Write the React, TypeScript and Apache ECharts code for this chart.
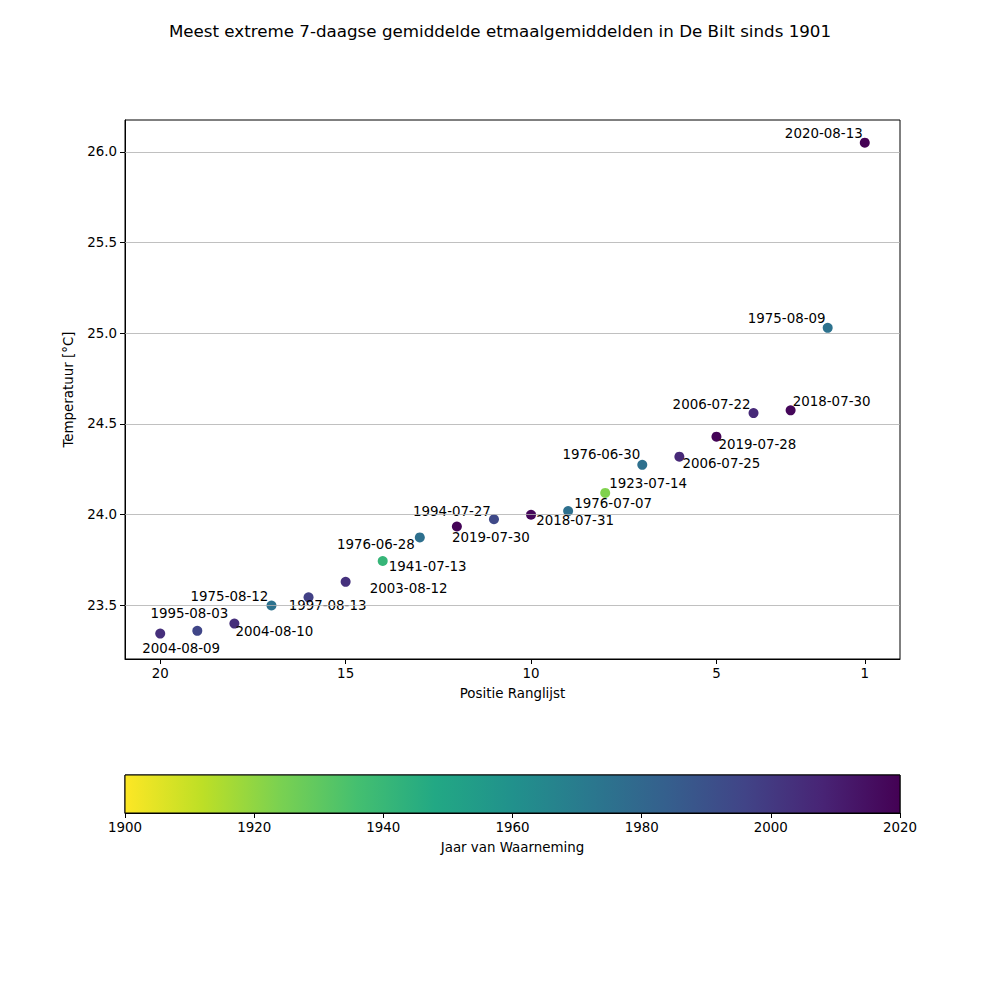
import React, { useEffect, useRef } from 'react'
import * as echarts from 'echarts'

// ranglijst: positie, temperatuur en datum
const ranks = [1, 2, 3, 4, 5, 6, 7, 8, 9, 10, 11, 12, 13, 14, 15, 16, 17, 18, 19, 20]
const temps = [
  26.05, 25.03, 24.575, 24.56, 24.43, 24.32, 24.275, 24.12, 24.02, 24.0,
  23.975, 23.935, 23.875, 23.745, 23.63, 23.545, 23.5, 23.4, 23.36, 23.345
]
const dates = [
  '2020-08-13', '1975-08-09', '2018-07-30', '2006-07-22', '2019-07-28',
  '2006-07-25', '1976-06-30', '1923-07-14', '1976-07-07', '2018-07-31',
  '1994-07-27', '2019-07-30', '1976-06-28', '1941-07-13', '2003-08-12',
  '1997-08-13', '1975-08-12', '2004-08-10', '1995-08-03', '2004-08-09'
]
const years = dates.map((d) => parseInt(d.slice(0, 4), 10))

const xTicks = [1, 5, 10, 15, 20]
const yTicks = [23.5, 24.0, 24.5, 25.0, 25.5, 26.0]

// label offsets (px) relative to each point
const labelOffsets: [number, number][] = [
  [-41, -9], [-41, -9], [41, -9], [-42, -9], [41, 8],
  [42, 7], [-41, -10], [43, -9], [45, -8], [44, 6],
  [-42, -8], [34, 11], [-44, 7], [45, 5], [63, 7],
  [19, 8], [-42, -9], [40, 8], [-8, -17], [21, 15]
]

const viridis = [
  '#440154', '#482475', '#414487', '#355f8d', '#2a788e', '#21918c',
  '#22a884', '#44bf70', '#7ad151', '#bddf26', '#fde725'
]
const viridisR = [...viridis].reverse()

const FONT = 'DejaVu Sans'

const App: React.FC = () => {
  const chartRef = useRef<HTMLDivElement>(null)

  useEffect(() => {
    if (!chartRef.current) return
    const chart = echarts.init(chartRef.current, undefined, { renderer: 'svg' })

    const gradient = new echarts.graphic.LinearGradient(
      0, 0, 1, 0,
      viridisR.map((c, i) => ({ offset: i / (viridisR.length - 1), color: c }))
    )

    const axisLabel = { color: '#000', fontSize: 13.4, fontFamily: FONT, margin: 8 }
    const axisTick = { show: true, inside: false, length: 5, lineStyle: { color: '#000' } }

    const option: any = {
      animation: false,
      backgroundColor: '#fff',
      textStyle: { fontFamily: FONT },
      title: {
        text: 'Meest extreme 7-daagse gemiddelde etmaalgemiddelden in De Bilt sinds 1901',
        left: 'center',
        top: 17,
        textStyle: { color: '#000', fontSize: 16.7, fontWeight: 'normal', fontFamily: FONT }
      },
      grid: [
        { left: 125, right: 100, top: 120, height: 539, show: true, borderColor: '#000', borderWidth: 1, backgroundColor: 'transparent' },
        { left: 125, right: 100, top: 775, height: 38, show: true, borderColor: '#000', borderWidth: 1, backgroundColor: 'transparent' }
      ],
      xAxis: [
        {
          gridIndex: 0,
          type: 'value',
          inverse: true,
          min: 0.05,
          max: 20.95,
          name: 'Positie Ranglijst',
          nameLocation: 'middle',
          nameGap: 28,
          nameTextStyle: { color: '#000', fontSize: 13.4, fontFamily: FONT },
          axisLine: { show: true, lineStyle: { color: '#000' } },
          axisTick: { ...axisTick, customValues: xTicks },
          axisLabel: { ...axisLabel, customValues: xTicks },
          splitLine: { show: false }
        },
        {
          gridIndex: 1,
          type: 'value',
          min: 1900,
          max: 2020,
          interval: 20,
          name: 'Jaar van Waarneming',
          nameLocation: 'middle',
          nameGap: 28,
          nameTextStyle: { color: '#000', fontSize: 13.4, fontFamily: FONT },
          axisLine: { show: true, lineStyle: { color: '#000' } },
          axisTick,
          axisLabel: { ...axisLabel, formatter: (v: number) => String(v) },
          splitLine: { show: false }
        }
      ],
      yAxis: [
        {
          gridIndex: 0,
          type: 'value',
          min: 23.205,
          max: 26.175,
          name: 'Temperatuur [°C]',
          nameLocation: 'middle',
          nameGap: 50,
          nameRotate: 90,
          nameTextStyle: { color: '#000', fontSize: 13.4, fontFamily: FONT },
          axisLine: { show: true, lineStyle: { color: '#000' } },
          axisTick: { ...axisTick, customValues: yTicks },
          axisLabel: { ...axisLabel, customValues: yTicks, formatter: (v: number) => v.toFixed(1) },
          splitLine: { show: false }
        },
        {
          gridIndex: 1,
          type: 'value',
          min: 0,
          max: 1,
          show: false
        }
      ],
      visualMap: {
        show: false,
        type: 'continuous',
        seriesIndex: 0,
        dimension: 2,
        min: 1900,
        max: 2020,
        inRange: { color: viridisR, opacity: 1 }
      },
      series: [
        {
          type: 'scatter',
          xAxisIndex: 0,
          yAxisIndex: 0,
          symbolSize: 10,
          z: 3,
          itemStyle: { opacity: 1 },
          data: ranks.map((r, i) => ({
            value: [r, temps[i], years[i], dates[i]],
            label: {
              show: true,
              position: 'inside',
              offset: labelOffsets[i],
              formatter: dates[i],
              color: '#000',
              opacity: 1,
              fontSize: 13.4,
              fontFamily: FONT
            }
          })),
          markLine: {
            silent: true,
            symbol: 'none',
            label: { show: false },
            lineStyle: { color: '#b0b0b0', width: 0.8, type: 'solid', opacity: 1 },
            data: yTicks.map((t) => ({ yAxis: t }))
          }
        },
        {
          type: 'custom',
          xAxisIndex: 1,
          yAxisIndex: 1,
          silent: true,
          data: [[1960, 0.5]],
          renderItem: (params: any) => {
            const cs = params.coordSys
            return {
              type: 'rect',
              shape: { x: cs.x, y: cs.y, width: cs.width, height: cs.height },
              style: { fill: gradient, stroke: '#000', lineWidth: 1 }
            }
          }
        }
      ]
    }

    chart.setOption(option)
    return () => {
      chart.dispose()
    }
  }, [])

  return (
    <div
      ref={chartRef}
      style={{ position: 'absolute', left: 0, top: 0, width: '1000px', height: '1000px' }}
    />
  )
}

export default App
